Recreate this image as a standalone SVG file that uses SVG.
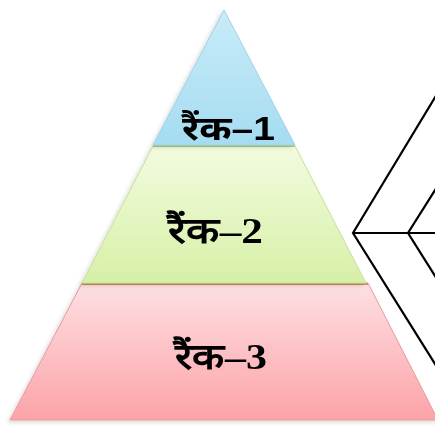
<svg xmlns="http://www.w3.org/2000/svg" width="435" height="426" viewBox="0 0 435 426">
<defs>
<linearGradient id="gBlue" x1="0" y1="0" x2="0" y2="1"><stop offset="0" stop-color="#c9ecf8"/><stop offset="1" stop-color="#a5dcf1"/></linearGradient>
<linearGradient id="gGreen" x1="0" y1="0" x2="0" y2="1"><stop offset="0" stop-color="#f3fbe0"/><stop offset="1" stop-color="#d6f0a6"/></linearGradient>
<linearGradient id="gPink" x1="0" y1="0" x2="0" y2="1"><stop offset="0" stop-color="#fde0e3"/><stop offset="1" stop-color="#fca3a8"/></linearGradient>
<filter id="sh" x="-10%" y="-10%" width="120%" height="120%"><feDropShadow dx="-2" dy="2" stdDeviation="2" flood-color="#000" flood-opacity="0.15"/></filter>
</defs>
<style>
.l1{font-family:"Liberation Sans","Noto Sans",sans-serif;font-weight:bold;font-size:34px;fill:#000}
.l2{font-family:"Liberation Serif","Noto Serif",serif;font-weight:bold;font-size:36px;fill:#000}
.con{stroke:#000;stroke-width:2.2;fill:none}
</style>
<rect width="435" height="426" fill="#fff"/>
<g id="rank3" filter="url(#sh)">
<polygon points="82,283 368,283 438,420 10,420" fill="url(#gPink)" stroke="#e89a9c" stroke-width="1"/>
<line x1="82" y1="284" x2="368" y2="284" stroke="#c9925a" stroke-width="2"/>
<text class="l2" x="175" y="369" textLength="92" lengthAdjust="spacingAndGlyphs">रैंक–3</text>
</g>
<g id="rank2" filter="url(#sh)">
<polygon points="153,146 295,146 366,283 82,283" fill="url(#gGreen)" stroke="#c6e09a" stroke-width="1"/>
<line x1="153" y1="146" x2="295" y2="146" stroke="#a8d27a" stroke-width="2"/>
<text class="l2" x="168" y="243" textLength="95" lengthAdjust="spacingAndGlyphs">रैंक–2</text>
</g>
<g id="rank1" filter="url(#sh)">
<polygon points="224,10 295,145 153,145" fill="url(#gBlue)" stroke="#9fd2e6" stroke-width="1"/>
<text class="l1" x="182" y="140" textLength="93" lengthAdjust="spacingAndGlyphs">रैंक–1</text>
</g>
<g id="connectors" class="con">
<polyline class="con" points="437,94 353,233 437,367"/>
<line class="con" x1="353" y1="233" x2="437" y2="233"/>
<polyline class="con" points="437,187 408,233 437,279"/>
</g>
</svg>
